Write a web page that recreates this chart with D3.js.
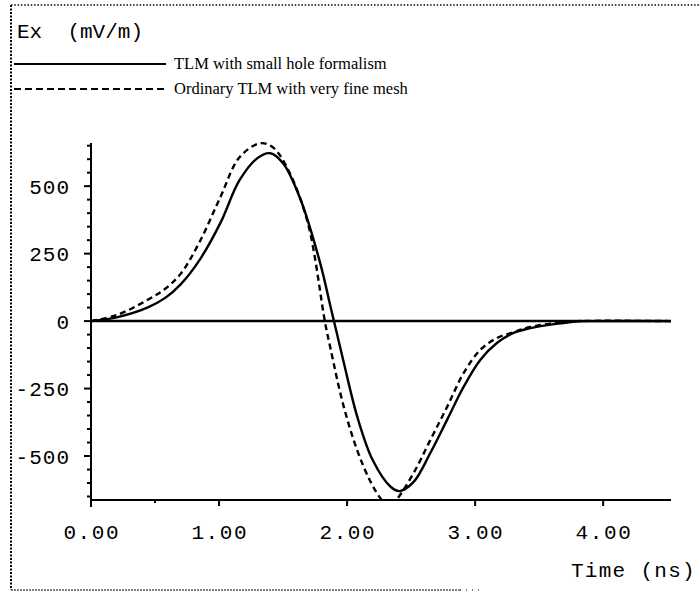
<!DOCTYPE html>
<html><head><meta charset="utf-8">
<script src="https://cdn.jsdelivr.net/npm/d3@7"></script>
<style>body{margin:0;background:#fff}svg{display:block}</style>
</head><body>
<script>
// ---- data ----
const yTitle = "Ex  (mV/m)";
const xTitle = "Time (ns)";
const legendLabels = ["TLM with small hole formalism", "Ordinary TLM with very fine mesh"];
const xTicks = [0, 1, 2, 3, 4];
const xTickLabels = ["0.00", "1.00", "2.00", "3.00", "4.00"];
const yTicks = [500, 250, 0, -250, -500];
const yTickLabels = ["500", "250", "0", "-250", "-500"];

const solidT = [0, 0.2, 0.44, 0.58, 0.70, 0.85, 1.01, 1.16, 1.30, 1.40, 1.50, 1.63, 1.79, 1.87, 1.91, 1.97, 2.08, 2.20, 2.34, 2.41, 2.52, 2.65, 2.78, 2.91, 3.04, 3.17, 3.30, 3.43, 3.56, 3.69, 3.80, 3.90, 4.53];
const solidV = [0, 14, 50, 86, 136, 228, 363, 522, 604, 622, 585, 459, 215, 55, -25, -145, -355, -515, -614, -630, -596, -489, -367, -244, -144, -81, -44, -26, -15, -7, -1, 0, 0];
const dashT = [0, 0.2, 0.44, 0.58, 0.70, 0.85, 1.01, 1.16, 1.32, 1.42, 1.53, 1.69, 1.83, 1.87, 1.97, 2.08, 2.18, 2.26, 2.33, 2.39, 2.52, 2.65, 2.78, 2.91, 3.04, 3.17, 3.30, 3.43, 3.69, 3.80, 4.53];
const dashV = [0, 22, 78, 120, 175, 295, 459, 607, 659, 644, 570, 370, -10, -100, -310, -480, -592, -656, -690, -660, -563, -441, -319, -193, -107, -63, -41, -22, -4, 0, 0];

// ---- layout ----
const W = 699, H = 594;
const svg = d3.select("body").append("svg").attr("width", W).attr("height", H);

const x = d3.scaleLinear().domain([0, 4.53]).range([91, 671]);
const y = d3.scaleLinear().domain([-663, 660]).range([500, 143]);

const mono = "'Liberation Mono','Courier New',monospace";
const serif = "'Liberation Serif','Times New Roman',serif";

// frame (dotted)
svg.append("line").attr("x1", 11).attr("x2", 699).attr("y1", 5).attr("y2", 5)
  .attr("stroke", "#000").attr("stroke-width", 1.5).attr("stroke-dasharray", "1.5,1.8");
svg.append("line").attr("x1", 11).attr("x2", 11).attr("y1", 5).attr("y2", 590)
  .attr("stroke", "#000").attr("stroke-width", 2).attr("stroke-dasharray", "2,1.5");
svg.append("line").attr("x1", 11).attr("x2", 460).attr("y1", 590).attr("y2", 590)
  .attr("stroke", "#000").attr("stroke-width", 1).attr("stroke-dasharray", "2,1");
svg.append("line").attr("x1", 460).attr("x2", 480).attr("y1", 590).attr("y2", 590)
  .attr("stroke", "#000").attr("stroke-width", 1).attr("stroke-dasharray", "1,5");

// title
svg.append("text").attr("x", 17).attr("y", 38).attr("font-family", mono).attr("font-size", 21)
  .attr("xml:space", "preserve").style("white-space", "pre").text(yTitle);

// legend
const legY = [64, 89];
legendLabels.forEach((lab, i) => {
  svg.append("line").attr("x1", 14).attr("x2", 166).attr("y1", legY[i]).attr("y2", legY[i])
    .attr("stroke", "#000").attr("stroke-width", 2.2)
    .attr("stroke-dasharray", i === 1 ? "7,4" : null);
  svg.append("text").attr("x", 174).attr("y", legY[i] + 5).attr("font-family", serif)
    .attr("font-size", 16.5).text(lab);
});

// y axis
const yAxisG = svg.append("g");
yAxisG.append("line").attr("x1", x(0)).attr("x2", x(0)).attr("y1", y.range()[1]).attr("y2", y.range()[0] + 7)
  .attr("stroke", "#000").attr("stroke-width", 2);
d3.range(-650, 651, 50).forEach(v => {
  const major = yTicks.includes(v);
  yAxisG.append("line").attr("x1", x(0) - (major ? 7 : 4)).attr("x2", x(0))
    .attr("y1", y(v)).attr("y2", y(v)).attr("stroke", "#000").attr("stroke-width", 2);
});
yTicks.forEach((v, i) => {
  yAxisG.append("text").attr("x", 70).attr("y", y(v)).attr("dy", "0.36em")
    .attr("text-anchor", "end").attr("font-family", mono).attr("font-size", 21)
    .attr("letter-spacing", 1).text(yTickLabels[i]);
});

// x axis
const xAxisG = svg.append("g");
xAxisG.append("line").attr("x1", x(0)).attr("x2", x.range()[1]).attr("y1", y(-663)).attr("y2", y(-663))
  .attr("stroke", "#000").attr("stroke-width", 2.2);
xTicks.slice(1).forEach(v => {
  xAxisG.append("line").attr("x1", x(v)).attr("x2", x(v)).attr("y1", y(-663)).attr("y2", y(-663) + 6)
    .attr("stroke", "#000").attr("stroke-width", 2);
});
xAxisG.append("line").attr("x1", x(0.5)).attr("x2", x(0.5)).attr("y1", y(-663)).attr("y2", y(-663) + 3)
  .attr("stroke", "#000").attr("stroke-width", 2);
xTicks.forEach((v, i) => {
  xAxisG.append("text").attr("x", x(v) + 0.8).attr("y", 539).attr("text-anchor", "middle")
    .attr("font-family", mono).attr("font-size", 21).attr("letter-spacing", 1.6).text(xTickLabels[i]);
});
svg.append("text").attr("x", 696).attr("y", 577).attr("text-anchor", "end")
  .attr("font-family", mono).attr("font-size", 21).attr("letter-spacing", 1.3)
  .attr("xml:space", "preserve").style("white-space", "pre").text(xTitle);

// zero line
svg.append("line").attr("x1", x(0)).attr("x2", x.range()[1]).attr("y1", y(0)).attr("y2", y(0))
  .attr("stroke", "#000").attr("stroke-width", 2.5);

// clip
svg.append("clipPath").attr("id", "clip").append("rect")
  .attr("x", x(0)).attr("y", y.range()[1] - 5).attr("width", x.range()[1] - x(0)).attr("height", y.range()[0] - y.range()[1] + 4);

const line = d3.line().x(d => x(d[0])).y(d => y(d[1])).curve(d3.curveCatmullRom.alpha(0.5));
const plot = svg.append("g").attr("clip-path", "url(#clip)");
plot.append("path").datum(solidT.map((t, i) => [t, solidV[i]])).attr("d", line)
  .attr("fill", "none").attr("stroke", "#000").attr("stroke-width", 2.4);
plot.append("path").datum(dashT.map((t, i) => [t, dashV[i]])).attr("d", line)
  .attr("fill", "none").attr("stroke", "#000").attr("stroke-width", 2.4).attr("stroke-dasharray", "6,4");
</script>
</body></html>
